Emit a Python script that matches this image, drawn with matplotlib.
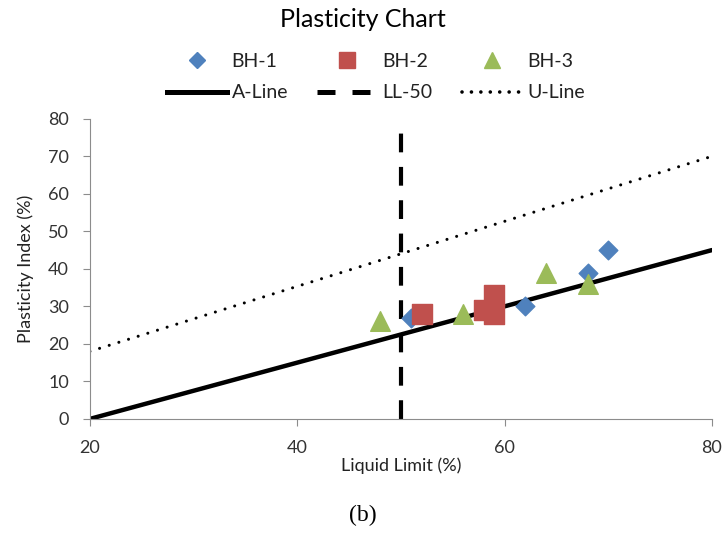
import matplotlib.pyplot as plt
from matplotlib.lines import Line2D

# borehole samples: liquid limit vs plasticity index
bh1_ll = [51, 62, 68, 70]
bh1_pi = [27, 30, 39, 45]
bh2_ll = [52, 58, 59, 59]
bh2_pi = [28, 29, 33, 28]
bh3_ll = [48, 56, 64, 68]
bh3_pi = [26, 28, 39, 36]

# reference lines
a_line_ll = [20, 80]
a_line_pi = [0, 45]
ll50_ll = [50, 50]
ll50_pi = [0, 77]
u_line_ll = [20, 80]
u_line_pi = [18, 70]

plt.rcParams['font.family'] = ['Lato', 'DejaVu Sans']

fig = plt.figure(figsize=(7.25, 5.35), dpi=100)
ax = fig.add_axes([0.124, 0.217, 0.858, 0.561])

dotted = (0, (0.01, 3.3))

ax.plot(a_line_ll, a_line_pi, color="black", lw=3.2, solid_capstyle="round")
ax.plot(ll50_ll, ll50_pi, color="black", lw=3, dashes=(4.5, 3.5))
ax.plot(u_line_ll, u_line_pi, color="black", lw=2.2, linestyle=dotted,
        dash_capstyle="round")

ax.scatter(bh1_ll, bh1_pi, marker="D", s=90, color="#4F81BD", zorder=3)
ax.scatter(bh2_ll, bh2_pi, marker="s", s=190, color="#C0504D", zorder=3)
ax.scatter(bh3_ll, bh3_pi, marker="^", s=200, color="#9BBB59", zorder=3)

ax.set_xlim(20, 80)
ax.set_ylim(0, 80)
ax.set_xticks([20, 40, 60, 80])
ax.set_yticks(range(0, 81, 10))
for side in ("top", "right"):
    ax.spines[side].set_visible(False)
for side in ("left", "bottom"):
    ax.spines[side].set_color("#8c8c8c")
ax.tick_params(direction="out", length=5, color="#8c8c8c", labelsize=13,
               labelcolor="#333333", pad=10)
ax.set_xlabel("Liquid Limit (%)", fontsize=13, labelpad=1, color="#222222")
ax.set_ylabel("Plasticity Index (%)", fontsize=13, labelpad=10, color="#222222")

fig.text(0.5, 0.964, "Plasticity Chart", ha="center", va="center", fontsize=18)

handles = [
    Line2D([], [], ls="none", marker="D", ms=8, color="#4F81BD", label="BH-1"),
    Line2D([], [], color="black", lw=3.6, label="A-Line"),
    Line2D([], [], ls="none", marker="s", ms=11, color="#C0504D", label="BH-2"),
    Line2D([], [], color="black", lw=3.6, dashes=(3.6, 3.4), label="LL-50"),
    Line2D([], [], ls="none", marker="^", ms=11, color="#9BBB59", label="BH-3"),
    Line2D([], [], color="black", lw=2.6, linestyle=(0, (0.01, 2.6)),
           dash_capstyle="round", label="U-Line"),
]
fig.legend(handles=handles, ncol=3, loc="center", bbox_to_anchor=(0.518, 0.856),
           frameon=False, fontsize=14, handlelength=3.1, handletextpad=0.25,
           columnspacing=1.5, labelspacing=0.75, labelcolor="#222222")

fig.text(0.5, 0.037, "(b)", ha="center", va="center", fontsize=17,
         family="Liberation Serif")

fig.savefig("out.png", dpi=100)
